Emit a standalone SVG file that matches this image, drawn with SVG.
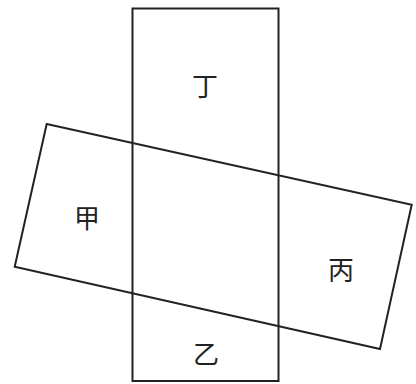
<svg xmlns="http://www.w3.org/2000/svg" width="416" height="384" viewBox="0 0 416 384">
<style>
.shape{fill:none;stroke:#222;stroke-width:2;stroke-linejoin:miter}
.lbl{font-family:"Noto Sans CJK SC","Noto Sans CJK JP",sans-serif;font-size:26px;fill:#222;text-anchor:middle;dominant-baseline:central}
</style>
<rect width="416" height="384" fill="#fff"/>
<g id="vertical-strip">
<rect class="shape" x="132.5" y="8.5" width="146" height="372.5"/>
</g>
<g id="tilted-strip">
<polygon class="shape" points="46.7,124 411.7,204.7 380,349 14.7,266.7"/>
</g>
<g id="node-ding"><text class="lbl" x="205" y="84">丁</text></g>
<g id="node-jia"><text class="lbl" x="87" y="216">甲</text></g>
<g id="node-bing"><text class="lbl" x="341" y="268">丙</text></g>
<g id="node-yi"><text class="lbl" x="206" y="352">乙</text></g>
</svg>
